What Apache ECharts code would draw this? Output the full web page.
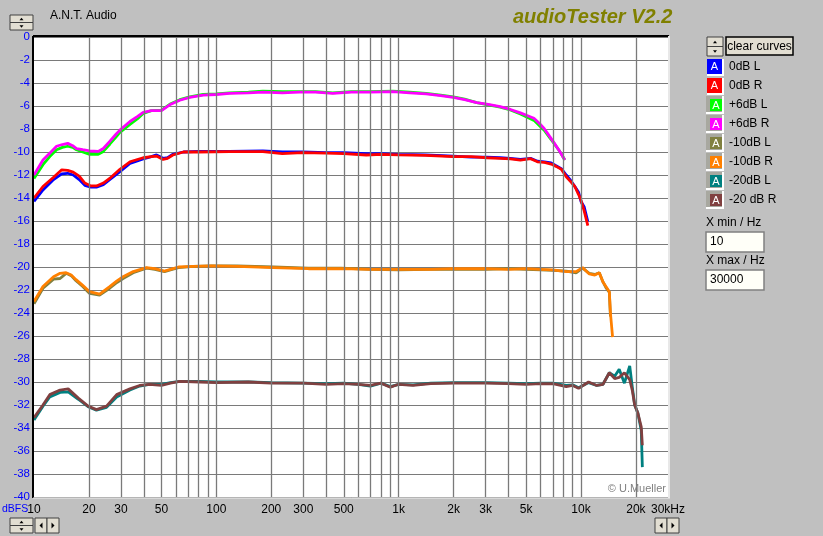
<!DOCTYPE html>
<html><head><meta charset="utf-8">
<script src="https://cdn.jsdelivr.net/npm/echarts@6/dist/echarts.min.js"></script>
<style>html,body{margin:0;padding:0;background:#c0c0c0}#c{width:823px;height:536px}</style>
</head><body><div id="c"></div>
<script>
// ---------- data ----------
const freqP6 = [10, 11.2, 12.2, 13.3, 14.3, 15.3, 16.3, 17.1, 18.5, 20.2, 22.5, 24, 26.1, 28, 29.6, 33.6, 37, 39.7, 44, 50, 55.5, 63, 71.5, 84.6, 100, 118, 150, 180, 230, 285, 350, 435, 550, 700, 930, 1150, 1415, 1700, 1990, 2300, 2680, 3100, 3600, 4100, 4650, 5100, 5520, 5900, 6280, 6700, 7150, 7650, 8150];
const plus6R = [-12.0, -10.7, -10.1, -9.5, -9.35, -9.25, -9.45, -9.7, -9.8, -9.9, -9.95, -9.7, -9.05, -8.5, -8.1, -7.35, -6.9, -6.55, -6.4, -6.4, -5.9, -5.5, -5.25, -5.05, -5.0, -4.9, -4.85, -4.8, -4.85, -4.8, -4.8, -4.9, -4.8, -4.8, -4.75, -4.85, -4.95, -5.1, -5.25, -5.45, -5.7, -5.85, -6.05, -6.3, -6.6, -6.85, -7.07, -7.5, -7.95, -8.6, -9.25, -9.95, -10.7];
const plus6L = [-12.3, -11.1, -10.4, -9.8, -9.6, -9.5, -9.6, -9.8, -10.0, -10.2, -10.2, -9.95, -9.3, -8.75, -8.3, -7.6, -7.1, -6.65, -6.4, -6.35, -5.85, -5.45, -5.2, -5.0, -4.95, -4.85, -4.8, -4.7, -4.75, -4.75, -4.75, -4.85, -4.75, -4.75, -4.7, -4.8, -4.9, -5.05, -5.2, -5.4, -5.7, -5.9, -6.1, -6.35, -6.7, -7.0, -7.25, -7.7, -8.1, -8.7, -9.3, -9.95, -10.7];

const freq0 = [10, 11.2, 12.8, 14.2, 15.3, 16.4, 17.7, 19, 20.5, 22, 24, 26, 29.6, 33.6, 39.7, 44, 47, 51, 54, 57.8, 66, 80, 118, 180, 230, 296, 400, 500, 664, 800, 1000, 1400, 1990, 2500, 3040, 3600, 4100, 4650, 5290, 5770, 6300, 6860, 7300, 7800, 8300, 8800, 9250, 9700, 10000, 10400, 10900];
const zeroR = [-14.0, -13.0, -12.2, -11.55, -11.6, -11.75, -12.1, -12.7, -12.95, -12.95, -12.7, -12.3, -11.5, -10.85, -10.5, -10.4, -10.35, -10.65, -10.55, -10.26, -10.0, -10.0, -9.97, -9.97, -10.15, -10.05, -10.1, -10.15, -10.26, -10.2, -10.25, -10.3, -10.4, -10.4, -10.5, -10.55, -10.6, -10.7, -10.58, -10.85, -10.9, -11.05, -11.25, -11.5, -12.15, -12.6, -13.0, -13.7, -14.2, -15.1, -16.4];
const zeroL = [-14.3, -13.3, -12.4, -11.9, -11.85, -12.0, -12.4, -12.9, -13.05, -13.05, -12.85, -12.4, -11.7, -11.0, -10.6, -10.4, -10.25, -10.55, -10.5, -10.2, -10.0, -9.95, -9.95, -9.9, -10.0, -10.0, -10.05, -10.05, -10.15, -10.15, -10.2, -10.25, -10.35, -10.45, -10.45, -10.5, -10.55, -10.65, -10.55, -10.8, -10.85, -10.95, -11.2, -11.45, -12.0, -12.5, -13.0, -13.5, -14.3, -14.75, -16.05];

const freqM10 = [10, 11.2, 12.8, 13.9, 15, 16, 17, 18.5, 20.2, 22.9, 26, 28.5, 30.8, 35, 41.4, 46, 52, 56, 62, 75, 94, 130, 205, 320, 485, 700, 1000, 1500, 2000, 3000, 4000, 5000, 6000, 7000, 8300, 9400, 10200, 11100, 11900, 12600, 13200, 13700, 14300, 14500, 14900];
const minus10R = [-23.0, -21.7, -20.85, -20.55, -20.5, -20.7, -21.1, -21.6, -22.15, -22.35, -21.7, -21.2, -20.85, -20.4, -20.05, -20.15, -20.35, -20.2, -20.0, -19.95, -19.9, -19.95, -20.05, -20.15, -20.15, -20.2, -20.2, -20.2, -20.15, -20.15, -20.2, -20.15, -20.2, -20.25, -20.4, -20.4, -20.05, -20.6, -20.7, -20.5, -21.3, -21.7, -22.15, -24.0, -26.1];
const minus10L = [-23.2, -21.85, -21.05, -21.0, -20.55, -20.75, -21.2, -21.7, -22.3, -22.45, -21.85, -21.35, -21.0, -20.5, -20.1, -20.2, -20.4, -20.25, -20.05, -19.95, -19.9, -19.9, -20.0, -20.1, -20.1, -20.2, -20.25, -20.2, -20.2, -20.2, -20.15, -20.2, -20.25, -20.3, -20.35, -20.5, -20.1, -20.55, -20.65, -20.5, -21.3, -21.8, -22.2, -24.3, null];

const freqM20 = [10, 11.2, 12.2, 13.9, 15.4, 17.5, 19.8, 22, 25, 28.4, 33.6, 38, 43, 50, 56, 63, 81, 100, 150, 200, 300, 400, 500, 600, 700, 800, 900, 1000, 1200, 1500, 2000, 3000, 4000, 5000, 6000, 7000, 8300, 9000, 9700, 11000, 12200, 13200, 14300, 15300, 16200, 17300, 18500, 19100, 19700, 20500, 21400, 21700];
const minus20R = [-33.1, -32.0, -31.1, -30.7, -30.6, -31.4, -32.1, -32.4, -32.1, -31.1, -30.6, -30.3, -30.2, -30.3, -30.1, -29.95, -30.0, -30.05, -30.0, -30.1, -30.1, -30.2, -30.15, -30.2, -30.3, -30.1, -30.45, -30.2, -30.3, -30.15, -30.1, -30.1, -30.15, -30.2, -30.15, -30.15, -30.4, -30.3, -30.55, -30.0, -30.3, -30.2, -29.2, -29.7, -29.6, -29.2, -29.8, -30.7, -32.0, -32.7, -33.9, -35.5];
const minus20L = [-33.3, -32.1, -31.3, -30.9, -30.85, -31.5, -32.15, -32.45, -32.2, -31.3, -30.7, -30.35, -30.2, -30.2, -30.05, -29.95, -29.95, -30.0, -30.0, -30.05, -30.1, -30.15, -30.1, -30.2, -30.35, -30.1, -30.4, -30.2, -30.25, -30.1, -30.05, -30.05, -30.1, -30.15, -30.1, -30.1, -30.3, -30.25, -30.5, -30.05, -30.3, -30.2, -29.2, -29.5, -28.9, -30.1, -28.6, -30.4, -32.0, -32.7, -34.2, -37.4];

const seriesNames = ['0dB L', '0dB R', '+6dB L', '+6dB R', '-10dB L', '-10dB R', '-20dB L', '-20 dB R'];
const seriesColors = ['#0000ff', '#ff0000', '#00ff00', '#ff00ff', '#808040', '#ff8000', '#008080', '#804040'];
const seriesFreqs = [freq0, freq0, freqP6, freqP6, freqM10, freqM10, freqM20, freqM20];
const seriesValues = [zeroL, zeroR, plus6L, plus6R, minus10L, minus10R, minus20L, minus20R];

const gridFreqs = [20, 30, 40, 50, 60, 70, 80, 90, 100, 200, 300, 400, 500, 600, 700, 800, 900, 1000, 2000, 3000, 4000, 5000, 6000, 7000, 8000, 9000, 10000, 20000];
const xTickValues = [10, 20, 30, 50, 100, 200, 300, 500, 1000, 2000, 3000, 5000, 10000, 20000, 30000];
const xTickLabels = ['10', '20', '30', '50', '100', '200', '300', '500', '1k', '2k', '3k', '5k', '10k', '20k', '30kHz'];
const yMin = -40, yMax = 0, yStep = 2;
const xMin = 10, xMax = 30000;

// ---------- chart ----------
const FONT = 'Liberation Sans, Arial, sans-serif';
const chart = echarts.init(document.getElementById('c'), null, {renderer: 'canvas'});

const markData = gridFreqs.map(f => ({xAxis: f, label: {show: false}}))
  .concat(xTickValues.map((f, i) => ({
    xAxis: f,
    lineStyle: {color: 'rgba(0,0,0,0)'},
    label: {show: true, formatter: xTickLabels[i]}
  })));

const series = [{
  type: 'line', data: [], z: 1, silent: true,
  markLine: {
    silent: true, symbol: ['none', 'none'], animation: false,
    lineStyle: {color: '#7a7a7a', width: 1.3, type: 'solid'},
    label: {position: 'start', distance: 7, color: '#000', fontSize: 12, fontFamily: FONT},
    emphasis: {disabled: true},
    data: markData
  }
}];
seriesNames.forEach((name, i) => {
  series.push({
    name, type: 'line', z: 3,
    data: seriesFreqs[i].map((f, j) => [f, seriesValues[i][j]]),
    showSymbol: false, symbol: 'none', smooth: false, connectNulls: false,
    lineStyle: {color: seriesColors[i], width: 2.8},
    itemStyle: {color: seriesColors[i]},
    animation: false, silent: true
  });
});

// UI graphic helpers
const g = [];
const FACE = '#e2ded2';
function spinBtn(x, y, w, h) {
  const hh = h / 2;
  [0, 1].forEach(k => {
    g.push({type: 'rect', shape: {x: x, y: y + k * hh, width: w, height: hh}, style: {fill: FACE, stroke: '#404040', lineWidth: 1}});
  });
  const cx = x + w / 2;
  g.push({type: 'polygon', shape: {points: [[cx - 2, y + hh / 2 + 1.5], [cx + 2, y + hh / 2 + 1.5], [cx, y + hh / 2 - 1]]}, style: {fill: '#000'}});
  g.push({type: 'polygon', shape: {points: [[cx - 2, y + hh + hh / 2 - 1], [cx + 2, y + hh + hh / 2 - 1], [cx, y + hh + hh / 2 + 1.5]]}, style: {fill: '#000'}});
}
function arrowBtns(x, y, w, h) {
  [0, 1].forEach(k => {
    const bx = x + k * w;
    g.push({type: 'rect', shape: {x: bx, y: y, width: w, height: h}, style: {fill: FACE, stroke: '#404040', lineWidth: 1}});
    const cx = bx + w / 2, cy = y + h / 2;
    const pts = k === 0 ? [[cx + 1.5, cy - 3], [cx + 1.5, cy + 3], [cx - 1.5, cy]] : [[cx - 1.5, cy - 3], [cx - 1.5, cy + 3], [cx + 1.5, cy]];
    g.push({type: 'polygon', shape: {points: pts}, style: {fill: '#000'}});
  });
}
// plot border
g.push({type: 'line', shape: {x1: 33, y1: 36, x2: 33, y2: 498}, style: {stroke: '#000', lineWidth: 2}, z: 10});
g.push({type: 'line', shape: {x1: 33, y1: 36, x2: 669, y2: 36}, style: {stroke: '#000', lineWidth: 2}, z: 10});
g.push({type: 'line', shape: {x1: 669, y1: 36, x2: 669, y2: 498}, style: {stroke: '#e8e8e8', lineWidth: 2}, z: 10});
g.push({type: 'line', shape: {x1: 33, y1: 498, x2: 670, y2: 498}, style: {stroke: '#f0f0f0', lineWidth: 1}, z: 10});
// texts
g.push({type: 'text', x: 50, y: 16, style: {text: 'A.N.T. Audio', font: '12px ' + FONT, fill: '#000', verticalAlign: 'middle'}});
g.push({type: 'text', x: 513, y: 17, style: {text: 'audioTester V2.2', font: 'italic bold 20px ' + FONT, fill: '#808000', verticalAlign: 'middle'}});
g.push({type: 'text', x: 2, y: 509.5, style: {text: 'dBFS', font: '10.5px ' + FONT, fill: '#0000ff', verticalAlign: 'middle'}});
g.push({type: 'text', x: 666, y: 489, style: {text: '© U.Mueller', font: '11px ' + FONT, fill: '#808080', align: 'right', verticalAlign: 'middle'}, z: 10});
// buttons
spinBtn(10, 15, 23, 15);
spinBtn(707, 37, 16, 19);
spinBtn(10, 518, 23, 15);
arrowBtns(35, 518, 12, 15);
arrowBtns(655, 518, 12, 15);
g.push({type: 'rect', shape: {x: 726, y: 37, width: 67, height: 18}, style: {fill: FACE, stroke: '#000', lineWidth: 1.5}});
g.push({type: 'text', x: 759.5, y: 46.5, style: {text: 'clear curves', font: '12px ' + FONT, fill: '#000', align: 'center', verticalAlign: 'middle'}});
// legend
seriesNames.forEach((name, i) => {
  const y = 59 + 19 * i;
  if (i < 2) {
    g.push({type: 'rect', shape: {x: 707, y: y, width: 17, height: 17}, style: {fill: '#ffffff'}});
    g.push({type: 'rect', shape: {x: 707, y: y, width: 15, height: 15}, style: {fill: seriesColors[i]}});
  } else {
    g.push({type: 'rect', shape: {x: 706, y: y - 1, width: 18, height: 18}, style: {fill: '#ffffff'}});
    g.push({type: 'rect', shape: {x: 706, y: y - 1, width: 16, height: 16}, style: {fill: '#a8a8a0'}});
    g.push({type: 'rect', shape: {x: 710, y: y + 2, width: 12, height: 12}, style: {fill: seriesColors[i]}});
  }
  g.push({type: 'text', x: i < 2 ? 714.5 : 716, y: y + (i < 2 ? 8 : 8.5), style: {text: 'A', font: '11px ' + FONT, fill: '#ffffff', align: 'center', verticalAlign: 'middle'}});
  g.push({type: 'text', x: 729, y: y + 8, style: {text: name, font: '12px ' + FONT, fill: '#000', verticalAlign: 'middle'}});
});
// X min / X max boxes
[['X min / Hz', '10', 223, 232], ['X max / Hz', '30000', 261, 270]].forEach(b => {
  g.push({type: 'text', x: 706, y: b[2], style: {text: b[0], font: '12px ' + FONT, fill: '#000', verticalAlign: 'middle'}});
  g.push({type: 'rect', shape: {x: 706, y: b[3], width: 58, height: 20}, style: {fill: '#fffff8', stroke: '#808080', lineWidth: 1.5}});
  g.push({type: 'text', x: 710, y: b[3] + 10, style: {text: b[1], font: '12px ' + FONT, fill: '#000', verticalAlign: 'middle'}});
});

chart.setOption({
  backgroundColor: '#c0c0c0',
  animation: false,
  grid: {left: 34, right: 155, top: 37, bottom: 39, show: true, backgroundColor: '#ffffff', borderWidth: 0},
  xAxis: {
    type: 'log', logBase: 10, min: xMin, max: xMax,
    axisLabel: {show: false}, axisTick: {show: false}, axisLine: {show: false},
    splitLine: {show: false}, minorSplitLine: {show: false}
  },
  yAxis: {
    type: 'value', min: yMin, max: yMax, interval: yStep,
    axisLabel: {color: '#0000ff', fontSize: 11.5, fontFamily: FONT, margin: 4},
    axisTick: {show: false}, axisLine: {show: false},
    splitLine: {show: true, lineStyle: {color: '#7a7a7a', width: 1}}
  },
  series: series,
  graphic: g
});
</script></body></html>
